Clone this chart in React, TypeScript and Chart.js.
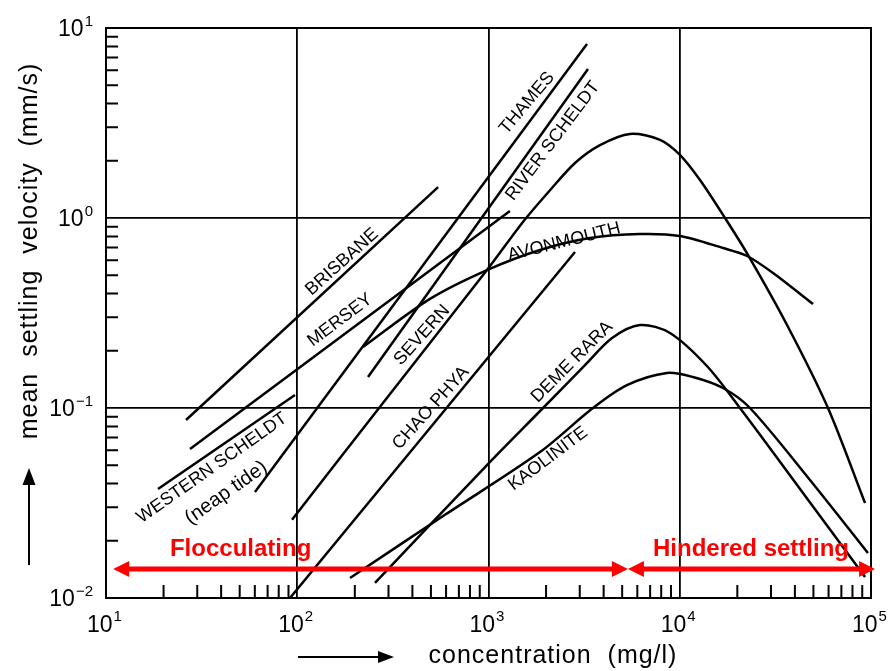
import React, { useEffect, useRef } from "react";
import { Chart, registerables } from "chart.js";

Chart.register(...registerables);

// ---- axes (exponents of ten) ----
const xExponents = [1, 2, 3, 4, 5];
const yExponents = [-2, -1, 0, 1];
const minorMultipliers = [2, 3, 4, 5, 6, 7, 8, 9];

// ---- curves: concentration (mg/l) vs mean settling velocity (mm/s) ----
const westernScheldtX = [18.7, 97.3];
const westernScheldtY = [0.0375, 0.117];

const brisbaneX = [26.2, 545];
const brisbaneY = [0.0865, 1.455];

const merseyX = [27.5, 1294];
const merseyY = [0.0608, 1.089];

const thamesX = [60.1, 3273];
const thamesY = [0.0361, 8.24];

const riverScheldtX = [234.4, 3313];
const riverScheldtY = [0.1455, 6.08];

const chaoPhyaX = [91.6, 2833];
const chaoPhyaY = [0.01, 0.662];

const severnX = [93.9, 305.5, 982, 1514, 2097, 2833, 3828, 5495, 7889, 10020, 12760, 17250, 22760, 36390, 59570, 93100];
const severnY = [0.0258, 0.1186, 0.532, 0.953, 1.4, 1.948, 2.42, 2.77, 2.58, 2.15, 1.585, 1.0, 0.638, 0.2735, 0.1, 0.0316];

const avonmouthX = [220.8, 494, 982, 1859, 3394, 6194, 10020, 16830, 22480, 30760, 49770];
const avonmouthY = [0.2095, 0.375, 0.532, 0.679, 0.785, 0.824, 0.804, 0.695, 0.631, 0.5135, 0.3525];

const demeRaraX = [255, 982, 1928, 3196, 4428, 6194, 8890, 13870, 20650, 42560, 93100];
const demeRaraY = [0.012, 0.0501, 0.1, 0.1683, 0.2335, 0.2735, 0.2483, 0.1664, 0.1, 0.0375, 0.0129];

const kaoliniteX = [188.8, 592, 1858, 3516, 5297, 8570, 11720, 16830, 23290, 47970, 96350];
const kaoliniteY = [0.01274, 0.0274, 0.0586, 0.1, 0.132, 0.153, 0.1456, 0.1274, 0.1, 0.0418, 0.01725];

const curves = [
  { name: "Western Scheldt", xs: westernScheldtX, ys: westernScheldtY, smooth: false },
  { name: "Brisbane", xs: brisbaneX, ys: brisbaneY, smooth: false },
  { name: "Mersey", xs: merseyX, ys: merseyY, smooth: false },
  { name: "Thames", xs: thamesX, ys: thamesY, smooth: false },
  { name: "River Scheldt", xs: riverScheldtX, ys: riverScheldtY, smooth: false },
  { name: "Chao Phya", xs: chaoPhyaX, ys: chaoPhyaY, smooth: false },
  { name: "Severn", xs: severnX, ys: severnY, smooth: true },
  { name: "Avonmouth", xs: avonmouthX, ys: avonmouthY, smooth: true },
  { name: "Deme Rara", xs: demeRaraX, ys: demeRaraY, smooth: true },
  { name: "Kaolinite", xs: kaoliniteX, ys: kaoliniteY, smooth: true },
];

// ---- curve labels (anchor in data coordinates, angle in degrees) ----
const labelTexts = ["BRISBANE", "MERSEY", "WESTERN SCHELDT", "(neap tide)", "THAMES", "RIVER SCHELDT", "SEVERN", "CHAO PHYA", "AVONMOUTH", "DEME RARA", "KAOLINITE"];
const labelX = [171.4, 167.3, 35.8, 42.5, 1589, 2170, 449, 500, 2484, 2735, 2047];
const labelY = [0.587, 0.29, 0.0483, 0.0358, 4.03, 2.54, 0.242, 0.1, 0.748, 0.1746, 0.054];
const labelAngle = [-42, -37, -35, -35, -50, -53, -48, -48, -14, -45, -37];
const labelSize = [18, 18, 18, 20, 18, 18, 18, 18, 18, 18, 18];

// ---- regimes (red annotation) ----
const regimeNames = ["Flocculating", "Hindered settling"];
const regimeBounds = [10.9, 5360, 105000];
const regimeTextX = [21.6, 7245];
const regimeArrowY = 0.0142;

const xTitle = "concentration  (mg/l)";
const yTitle = "mean  settling  velocity  (mm/s)";

const isDecade = (v: number) => {
  if (!v) return false;
  const l = Math.log10(v);
  return Math.abs(l - Math.round(l)) < 1e-6;
};

const SUP_MINUS = "\u2212";

function drawArrowHead(ctx: CanvasRenderingContext2D, tx: number, ty: number, dx: number, dy: number, len: number, half: number) {
  const px = -dy, py = dx;
  ctx.beginPath();
  ctx.moveTo(tx, ty);
  ctx.lineTo(tx - dx * len + px * half, ty - dy * len + py * half);
  ctx.lineTo(tx - dx * len - px * half, ty - dy * len - py * half);
  ctx.closePath();
  ctx.fill();
}

const overlayPlugin = {
  id: "overlay",
  afterDraw(chart: any) {
    const { ctx, chartArea: ca } = chart;
    const xs = chart.scales.x;
    const ys = chart.scales.y;
    ctx.save();

    // frame
    ctx.strokeStyle = "#000";
    ctx.lineWidth = 2;
    ctx.strokeRect(ca.left, ca.top, ca.right - ca.left, ca.bottom - ca.top);

    // minor ticks (inward)
    ctx.lineWidth = 2;
    ctx.beginPath();
    for (const e of xExponents.slice(0, -1)) {
      for (const m of minorMultipliers) {
        const px = xs.getPixelForValue(m * Math.pow(10, e));
        ctx.moveTo(px, ca.bottom);
        ctx.lineTo(px, ca.bottom - 13);
      }
    }
    for (const e of yExponents.slice(0, -1)) {
      for (const m of minorMultipliers) {
        const py = ys.getPixelForValue(m * Math.pow(10, e));
        ctx.moveTo(ca.left, py);
        ctx.lineTo(ca.left + 12, py);
      }
    }
    ctx.stroke();

    // tick labels
    const baseFont = '23px "Liberation Sans", Arial, sans-serif';
    const supFont = '15px "Liberation Sans", Arial, sans-serif';
    ctx.fillStyle = "#000";
    ctx.textBaseline = "alphabetic";
    ctx.textAlign = "left";
    const supText = (e: number) => (e < 0 ? SUP_MINUS + Math.abs(e) : String(e));
    for (const e of xExponents) {
      const px = xs.getPixelForValue(Math.pow(10, e));
      ctx.font = baseFont;
      const w1 = ctx.measureText("10").width;
      ctx.font = supFont;
      const w2 = ctx.measureText(supText(e)).width;
      const start = px - (w1 + w2) / 2 - 2;
      ctx.font = baseFont;
      ctx.fillText("10", start, ca.bottom + 34);
      ctx.font = supFont;
      ctx.fillText(supText(e), start + w1 + 1, ca.bottom + 23);
    }
    for (const e of yExponents) {
      const py = ys.getPixelForValue(Math.pow(10, e));
      ctx.font = baseFont;
      const w1 = ctx.measureText("10").width;
      ctx.font = supFont;
      const w2 = ctx.measureText(supText(e)).width;
      const start = ca.left - 14 - (w1 + w2);
      ctx.font = baseFont;
      ctx.fillText("10", start, py + 8);
      ctx.font = supFont;
      ctx.fillText(supText(e), start + w1 + 1, py - 2);
    }

    // axis titles
    ctx.font = '25px "Liberation Sans", Arial, sans-serif';
    (ctx as any).letterSpacing = "1px";
    ctx.textAlign = "center";
    ctx.fillText(xTitle, 553, ca.bottom + 65);
    ctx.save();
    ctx.translate(37, 251);
    ctx.rotate(-Math.PI / 2);
    ctx.fillText(yTitle, 0, 0);
    ctx.restore();
    (ctx as any).letterSpacing = "0px";

    // axis arrows
    ctx.lineWidth = 2;
    ctx.beginPath();
    ctx.moveTo(298, ca.bottom + 59);
    ctx.lineTo(382, ca.bottom + 59);
    ctx.moveTo(29, 565);
    ctx.lineTo(29, 480);
    ctx.stroke();
    drawArrowHead(ctx, 394, ca.bottom + 59, 1, 0, 16, 6);
    drawArrowHead(ctx, 29, 468, 0, -1, 17, 6.5);

    // curve labels
    ctx.textAlign = "center";
    ctx.textBaseline = "middle";
    labelTexts.forEach((t, i) => {
      const px = xs.getPixelForValue(labelX[i]);
      const py = ys.getPixelForValue(labelY[i]);
      ctx.font = `${labelSize[i]}px "Liberation Sans", Arial, sans-serif`;
      ctx.save();
      ctx.translate(px, py);
      ctx.rotate((labelAngle[i] * Math.PI) / 180);
      ctx.fillText(t, 0, 0);
      ctx.restore();
    });

    // regime arrows (red)
    const red = "#ff0000";
    ctx.strokeStyle = red;
    ctx.fillStyle = red;
    ctx.lineWidth = 5;
    const ay = ys.getPixelForValue(regimeArrowY);
    for (let i = 0; i < regimeNames.length; i++) {
      const x1 = xs.getPixelForValue(regimeBounds[i]);
      const x2 = xs.getPixelForValue(regimeBounds[i + 1]);
      ctx.beginPath();
      ctx.moveTo(x1 + 10, ay);
      ctx.lineTo(x2 - 10, ay);
      ctx.stroke();
      drawArrowHead(ctx, x1, ay, -1, 0, 16, 8);
      drawArrowHead(ctx, x2, ay, 1, 0, 16, 8);
      ctx.font = 'bold 24px "Liberation Sans", Arial, sans-serif';
      ctx.textAlign = "left";
      ctx.textBaseline = "alphabetic";
      ctx.fillText(regimeNames[i], xs.getPixelForValue(regimeTextX[i]), ay - 13);
    }

    ctx.restore();
  },
};

export default function App() {
  const ref = useRef<HTMLCanvasElement | null>(null);

  useEffect(() => {
    if (!ref.current) return;
    const datasets = curves.map((c) => ({
      label: c.name,
      data: c.xs.map((v, i) => ({ x: v, y: c.ys[i] })),
      showLine: true,
      borderColor: "#000",
      backgroundColor: "#000",
      borderWidth: 2.5,
      pointRadius: 0,
      pointHoverRadius: 0,
      fill: false,
      tension: c.smooth ? 0.3 : 0,
    }));

    const chart = new Chart(ref.current, {
      type: "scatter",
      data: { datasets: datasets as any },
      options: {
        responsive: false,
        animation: false,
        devicePixelRatio: 1,
        layout: { padding: { left: 106, top: 28, right: 22, bottom: 73 } },
        plugins: { legend: { display: false }, tooltip: { enabled: false } },
        events: [],
        scales: {
          x: {
            type: "logarithmic",
            min: 10,
            max: 100000,
            ticks: { display: false },
            grid: {
              color: (c: any) => (c.tick && isDecade(c.tick.value) ? "#000" : "rgba(0,0,0,0)"),
              lineWidth: 1.8,
              drawTicks: false,
            },
            border: { display: true, color: "#000", width: 2 },
            afterFit: (s: any) => {
              s.height = 0;
            },
          },
          y: {
            type: "logarithmic",
            min: 0.01,
            max: 10,
            ticks: { display: false },
            grid: {
              color: (c: any) => (c.tick && isDecade(c.tick.value) ? "#000" : "rgba(0,0,0,0)"),
              lineWidth: 1.8,
              drawTicks: false,
            },
            border: { display: true, color: "#000", width: 2 },
            afterFit: (s: any) => {
              s.width = 0;
            },
          },
        },
      } as any,
      plugins: [overlayPlugin],
    });
    return () => chart.destroy();
  }, []);

  return (
    <div style={{ position: "fixed", left: 0, top: 0, width: 893, height: 671, background: "#fff" }}>
      <canvas ref={ref} width={893} height={671} style={{ display: "block" }} />
    </div>
  );
}
